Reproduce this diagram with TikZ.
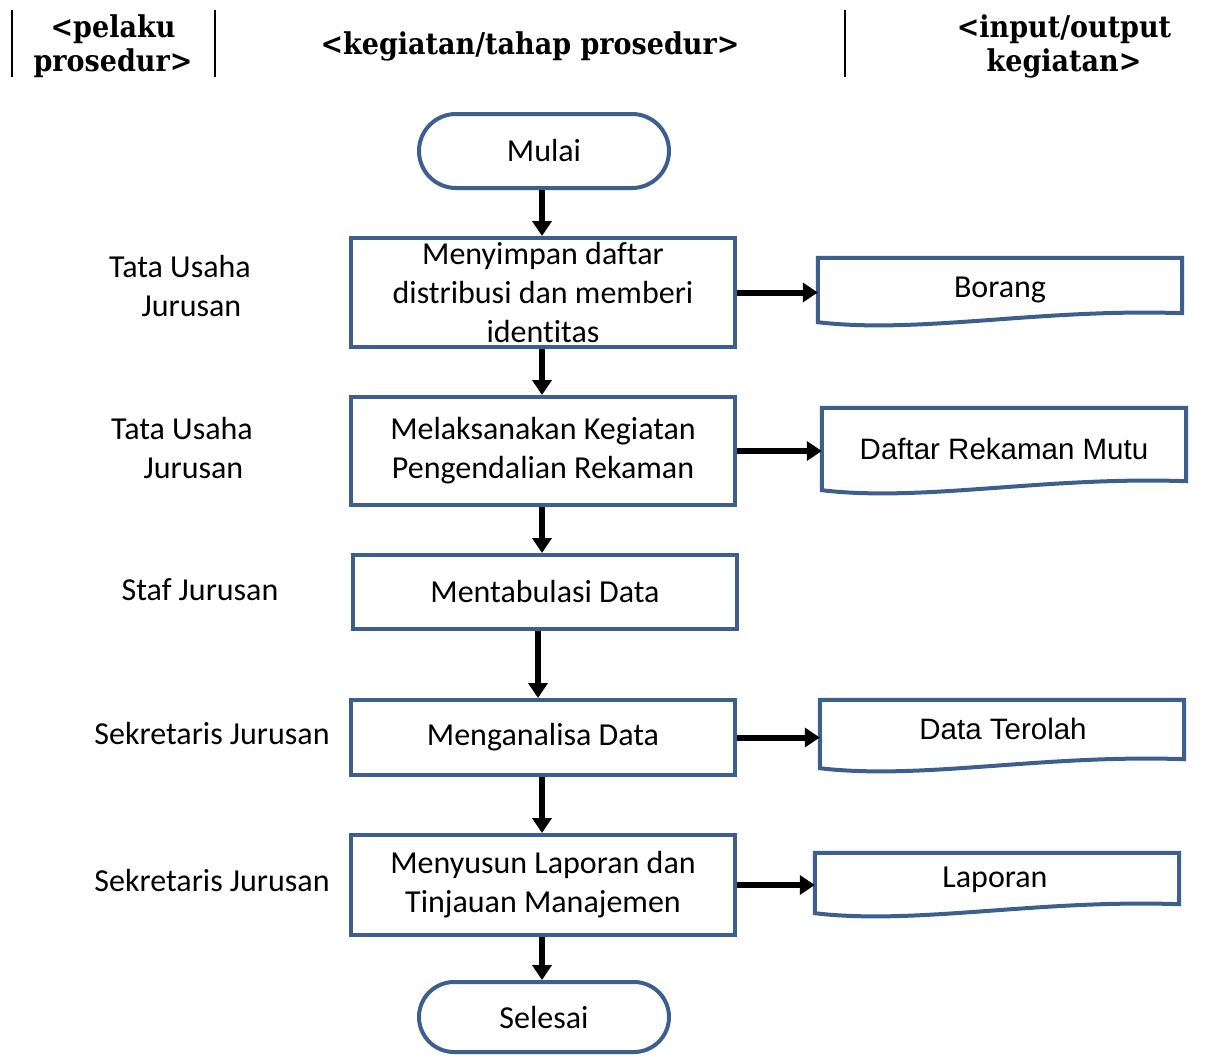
\documentclass[tikz,border=0pt]{standalone}
\usepackage{fontspec}
\setmainfont{Carlito}[Ligatures=NoCommon]
\newfontfamily\arialf{Liberation Sans}
\newfontfamily\headf[FakeStretch=0.9]{DejaVu Serif}
\usetikzlibrary{arrows.meta,calc,shapes.misc}
\definecolor{bord}{HTML}{3C5F8E}
\tikzset{
  bodyfont/.style={font=\fontsize{32}{39}\selectfont},
  headtxt/.style={font=\headf\bfseries\fontsize{30}{34}\selectfont, align=center, inner sep=0pt},
  procbox/.style={draw=bord, line width=4pt, minimum width=384pt, align=center, inner sep=0pt, bodyfont},
  termbox/.style={draw=bord, line width=4pt, rounded rectangle, minimum width=250pt, minimum height=74pt, inner sep=0pt, bodyfont},
  docnode/.style={minimum width=364pt, inner sep=0pt, align=center},
  docline/.style={draw=bord, line width=4pt, line join=miter},
  actor/.style={align=center, inner sep=0pt, bodyfont},
  arr/.style={line width=6pt, -{Triangle[length=15pt,width=19pt]}},
  sep/.style={line width=1.5pt}
}
\newcommand{\docshape}[1]{%
  \draw[docline] (#1.south west) -- (#1.north west) -- (#1.north east) -- ($(#1.south east)+(0,-9)$)
    .. controls ($(#1.south east)+(-142,-14)$) and ($(#1.south west)+(102,12)$) .. (#1.south west) -- cycle;}
\begin{document}
\begin{tikzpicture}[x=1pt,y=-1pt]
\useasboundingbox (0,0) rectangle (1219,1057);
% header
\coordinate (l1t) at (12,10); \coordinate (l1b) at (12,77);
\coordinate (l2t) at (215,10); \coordinate (l2b) at (215,77);
\coordinate (l3t) at (845,10); \coordinate (l3b) at (845,77);
\draw[sep] (l1t) -- (l1b);
\draw[sep] (l2t) -- (l2b);
\draw[sep] (l3t) -- (l3b);
\node[headtxt] (h1) at (113,46) {<pelaku\\prosedur>};
\node[headtxt] (h2) at (530,46) {<kegiatan/tahap prosedur>};
\node[headtxt] (h3) at (1064,46) {<input/output\\kegiatan>};
% flow
\node[termbox] (start) at (544,151) {Mulai};
\node[procbox, minimum height=109pt] (b1) at (543,292.5) {Menyimpan daftar\\distribusi dan memberi\\identitas};
\node[procbox, minimum height=108pt] (b2) at (543,451) {Melaksanakan Kegiatan\\Pengendalian Rekaman};
\node[procbox, minimum height=74pt] (b3) at (545,592) {Mentabulasi Data};
\node[procbox, minimum height=75pt] (b4) at (543,737.5) {Menganalisa Data};
\node[procbox, minimum height=100pt] (b5) at (543,885) {Menyusun Laporan dan\\Tinjauan Manajemen};
\node[termbox, minimum height=70pt] (stop) at (544,1017) {Selesai};
% documents
\node[docnode, minimum height=64pt] (d1) at (1000,290) {\fontsize{32}{38}\selectfont Borang};
\node[docnode, minimum height=82pt] (d2) at (1004,449) {\arialf\fontsize{29.5}{34}\selectfont Daftar Rekaman Mutu};
\node[docnode, minimum height=68pt] (d3) at (1002,734) {};
\node[docnode, minimum height=60pt] (d4) at (997,883) {};
\docshape{d1}
\docshape{d2}
\docshape{d3}
\docshape{d4}
\node[inner sep=0pt, font=\arialf\fontsize{29.5}{34}\selectfont] (t3) at (1003,729) {Data Terolah};
\node[inner sep=0pt, font=\fontsize{32}{38}\selectfont] (t4) at (995,880) {Laporan};
% actors
\node[actor] (a1) at (180,286) {Tata Usaha\\\hspace*{23pt}Jurusan};
\node[actor] (a2) at (182,448) {Tata Usaha\\\hspace*{23pt}Jurusan};
\node[actor] (a3) at (200,590) {Staf Jurusan};
\node[actor] (a4) at (212,734) {Sekretaris Jurusan};
\node[actor] (a5) at (212,881) {Sekretaris Jurusan};
% arrows
\draw[arr] ([xshift=-2pt]start.south) -- ([xshift=-2pt]start.south |- b1.north);
\draw[arr] ([xshift=-1pt]b1.south) -- ([xshift=-1pt]b1.south |- b2.north);
\draw[arr] ([xshift=-1pt]b2.south) -- ([xshift=-1pt]b2.south |- b3.north);
\draw[arr] ([xshift=-7pt]b3.south) -- ([xshift=-7pt]b3.south |- b4.north);
\draw[arr] ([xshift=-1pt]b4.south) -- ([xshift=-1pt]b4.south |- b5.north);
\draw[arr] ([xshift=-1pt]b5.south) -- ([xshift=-1pt]b5.south |- stop.north);
\draw[arr] (b1.east) -- (b1.east -| d1.west);
\draw[arr] (b2.east) -- (b2.east -| d2.west);
\draw[arr] (b4.east) -- (b4.east -| d3.west);
\draw[arr] (b5.east) -- (b5.east -| d4.west);
\end{tikzpicture}
\end{document}
